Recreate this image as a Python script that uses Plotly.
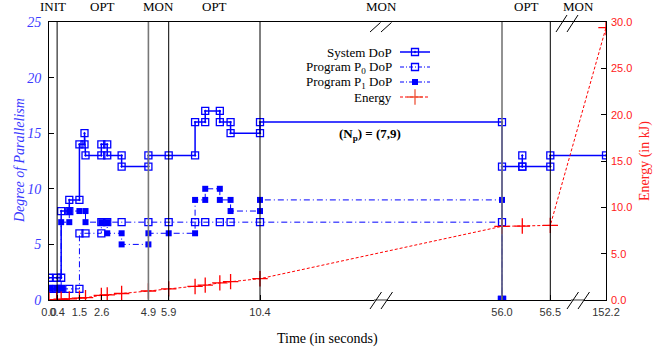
import numpy as np
import plotly.graph_objects as go

# ---------------- data (times in seconds) ----------------
sys_t = [0.0, 0.38, 0.6, 0.6, 1.0, 1.0, 1.5, 1.5, 1.75, 1.75, 1.8, 2.58, 2.58, 2.87, 2.87,
         3.58, 3.58, 4.9, 4.9, 5.9, 7.2, 7.2, 7.7, 7.7, 8.42, 8.42, 8.95, 8.95, 10.4, 10.4,
         56.0, 56.0, 56.0, 56.21, 56.21, 56.21, 56.5, 56.5, 152.2]
sys_dop = [2, 2, 2, 8, 8, 9, 9, 14, 14, 15, 13, 13, 14, 14, 13,
           13, 12, 12, 13, 13, 13, 16, 16, 17, 17, 16, 16, 15, 15, 16,
           16, 0, 12, 12, 13, 12, 12, 13, 13]

p0_t = [0.0, 0.38, 0.6, 1.0, 1.5, 1.5, 1.8, 2.58, 2.58, 2.87, 3.58, 4.9, 5.9, 7.2, 7.7,
        8.42, 8.95, 10.4, 56.0, 56.0]
p0_dop = [1, 1, 1, 1, 1, 6, 6, 6, 7, 7, 7, 7, 7, 7, 7,
          7, 7, 7, 7, 0]

p1_t = [0.0, 0.38, 0.6, 0.6, 1.0, 1.0, 1.5, 1.8, 1.8, 2.58, 2.87, 2.87, 3.58, 3.58, 4.9,
        4.9, 5.9, 7.2, 7.2, 7.7, 7.7, 8.42, 8.42, 8.95, 8.95, 10.4, 10.4, 56.0, 56.0]
p1_dop = [1, 1, 1, 7, 7, 8, 8, 8, 7, 7, 7, 6, 6, 5, 5,
          6, 6, 6, 9, 9, 10, 10, 9, 9, 8, 8, 9, 9, 0]

energy_t = [0.0, 0.38, 0.6, 1.0, 1.5, 1.8, 2.58, 2.87, 3.58, 4.9, 5.9, 7.2, 7.7, 8.42,
            8.95, 10.4, 56.0, 56.21, 56.5, 152.2]
energy_kj = [0.0, 0.05, 0.08, 0.12, 0.2, 0.25, 0.5, 0.55, 0.7, 0.97, 1.2, 1.46, 1.6, 1.85,
             1.98, 2.3, 7.95, 7.98, 8.05, 29.4]

x_ticks = [0.0, 0.4, 1.5, 2.6, 4.9, 5.9, 10.4, 56.0, 56.5, 152.2]
x_tick_text = ["0.0", "0.4", "1.5", "2.6", "4.9", "5.9", "10.4", "56.0", "56.5", "152.2"]

phase_bounds = [0.0, 0.4, 4.9, 5.9, 10.4, 56.0, 56.5, 152.2]
phase_names = ["INIT", "OPT", "MON", "OPT", "MON", "OPT", "MON"]
phase_line_gray = [False, True, False, False, True, False]  # lines at bounds[1:-1]

# ---------------- broken time axis scale ----------------
T_KNOTS = [0.0, 10.4, 56.0, 56.5, 152.2]
U_KNOTS = [0.0, 211.0, 453.0, 501.3, 557.0]


def tx(t):
    return np.interp(np.asarray(t, dtype=float), T_KNOTS, U_KNOTS)


W, H = 665, 350
ML, MR, MT, MB = 49, 59, 22, 50
PW, PH = W - ML - MR, H - MT - MB


def px(xp):
    return (xp - ML) / PW


def py(yp):
    return (H - MB - yp) / PH


BLUE = "#0000ff"
RED = "#ff0000"
SERIF = "Liberation Serif"
SANS = "Liberation Sans"

fig = go.Figure()

fig.add_trace(go.Scatter(x=tx(sys_t), y=sys_dop, mode="lines+markers", name="System DoP",
                         line=dict(color=BLUE, width=1.5),
                         marker=dict(symbol="square-open-dot", size=7, color=BLUE,
                                     line=dict(width=1.3, color=BLUE)),
                         showlegend=False))
fig.add_trace(go.Scatter(x=tx(p0_t), y=p0_dop, mode="lines+markers", name="Program P0 DoP",
                         line=dict(color=BLUE, width=1, dash="6px,3px,1px,3px"),
                         marker=dict(symbol="square-open", size=7, color=BLUE,
                                     line=dict(width=1.3, color=BLUE)),
                         showlegend=False))
fig.add_trace(go.Scatter(x=tx(p1_t), y=p1_dop, mode="lines+markers", name="Program P1 DoP",
                         line=dict(color=BLUE, width=1, dash="6px,3px,1px,3px"),
                         marker=dict(symbol="square", size=6, color=BLUE),
                         showlegend=False))
fig.add_trace(go.Scatter(x=tx(energy_t), y=energy_kj, mode="lines+markers", name="Energy",
                         yaxis="y2",
                         line=dict(color=RED, width=1, dash="3px,2px"),
                         marker=dict(symbol="cross-thin-open", size=11,
                                     line=dict(width=1.3, color=RED)),
                         showlegend=False))

# ---------------- manual legend (symbols right of text) ----------------
legend_labels = ["System DoP", "Program P<sub>0</sub> DoP", "Program P<sub>1</sub> DoP", "Energy"]
legend_rows_px = [52, 67, 82, 97]
legend_styles = [
    (dict(color=BLUE, width=1.5), dict(symbol="square-open-dot", size=7, color=BLUE, line=dict(width=1.3, color=BLUE))),
    (dict(color=BLUE, width=1, dash="4px,2px,1px,2px"), dict(symbol="square-open", size=7, color=BLUE, line=dict(width=1.3, color=BLUE))),
    (dict(color=BLUE, width=1, dash="4px,2px,1px,2px"), dict(symbol="square", size=6, color=BLUE)),
    (dict(color=RED, width=1, dash="3px,2px"), dict(symbol="cross-thin-open", size=11, line=dict(width=1.3, color=RED))),
]
annotations = []
for lab, rp, (ls, ms) in zip(legend_labels, legend_rows_px, legend_styles):
    yv = py(rp)
    fig.add_trace(go.Scatter(x=[px(400), px(430)], y=[yv, yv], mode="lines", line=ls,
                             xaxis="x3", yaxis="y3", showlegend=False, hoverinfo="skip"))
    fig.add_trace(go.Scatter(x=[px(415)], y=[yv], mode="markers", marker=ms,
                             xaxis="x3", yaxis="y3", showlegend=False, hoverinfo="skip"))
    annotations.append(dict(x=px(394), y=yv, xref="paper", yref="paper", text=lab,
                            xanchor="right", yanchor="middle", showarrow=False,
                            font=dict(family=SERIF, size=13, color="#000")))

# ---------------- phase lines & labels ----------------
shapes = []
for b, gray in zip(phase_bounds[1:-1], phase_line_gray):
    shapes.append(dict(type="line", xref="x", yref="paper", x0=float(tx(b)), x1=float(tx(b)),
                       y0=0, y1=1, layer="above",
                       line=dict(color="#777777" if gray else "#000000", width=1.6 if gray else 1)))

for i, name in enumerate(phase_names):
    mid = (float(tx(phase_bounds[i])) + float(tx(phase_bounds[i + 1]))) / 2
    annotations.append(dict(x=mid, y=py(7), xref="x", yref="paper", text=name,
                            xanchor="center", yanchor="middle", showarrow=False,
                            font=dict(family=SERIF, size=13, color="#000")))

# ---------------- axis break marks ----------------
for bx in [381, 578]:
    # bottom gray gap and slashes
    shapes.append(dict(type="line", xref="paper", yref="paper", x0=px(bx - 7), x1=px(bx + 6),
                       y0=0, y1=0, line=dict(color="#999999", width=2), layer="above"))
    for off in (-11, 0):
        shapes.append(dict(type="line", xref="paper", yref="paper",
                           x0=px(bx + off), y0=py(309), x1=px(bx + off + 11.5), y1=py(292),
                           line=dict(color="#000", width=1), layer="above"))
# top slashes
for off in (-11, 0):
    shapes.append(dict(type="line", xref="paper", yref="paper",
                       x0=px(381 + off), y0=py(32), x1=px(381 + off + 10.5), y1=py(22.5),
                       line=dict(color="#000", width=1), layer="above"))
    shapes.append(dict(type="line", xref="paper", yref="paper",
                       x0=px(578 + off - 11), y0=py(32), x1=px(578 + off), y1=py(15),
                       line=dict(color="#000", width=1), layer="above"))

# ---------------- texts ----------------
annotations.append(dict(x=px(370), y=py(134), xref="paper", yref="paper",
                        text="<b>(N<sub>p</sub>) = (7,9)</b>", showarrow=False,
                        xanchor="center", yanchor="middle",
                        font=dict(family=SERIF, size=13, color="#000")))
annotations.append(dict(x=px(19), y=0.5, xref="paper", yref="paper", text="Degree of Parallelism",
                        textangle=-90, showarrow=False, xanchor="center", yanchor="middle",
                        font=dict(family=SERIF, size=14, color="#3a3aff", style="italic")))
annotations.append(dict(x=px(645), y=0.5, xref="paper", yref="paper", text="Energy (in kJ)",
                        textangle=-90, showarrow=False, xanchor="center", yanchor="middle",
                        font=dict(family=SERIF, size=14, color="#ff2020")))
annotations.append(dict(x=0.5, y=py(339), xref="paper", yref="paper", text="Time (in seconds)",
                        showarrow=False, xanchor="center", yanchor="middle",
                        font=dict(family=SERIF, size=14, color="#000")))

fig.update_layout(
    width=W, height=H,
    margin=dict(l=ML, r=MR, t=MT, b=MB, pad=0),
    paper_bgcolor="white", plot_bgcolor="white",
    showlegend=False,
    xaxis=dict(range=[0, U_KNOTS[-1]], tickvals=[float(v) for v in tx(x_ticks)], ticktext=x_tick_text,
               tickangle=0, ticks="inside", ticklen=5, tickcolor="#000",
               showline=True, mirror=True, linecolor="#000", linewidth=1,
               showgrid=False, zeroline=False, ticklabelstandoff=2,
               tickfont=dict(family=SANS, size=11, color="#333")),
    yaxis=dict(range=[0, 25], tickvals=[0, 5, 10, 15, 20, 25], ticks="inside", ticklen=5,
               tickcolor="#000", showline=True, mirror=True, linecolor="#000", linewidth=1,
               showgrid=False, zeroline=False, ticklabelstandoff=4,
               tickfont=dict(family=SERIF, size=14, color="#3a3aff", style="italic")),
    yaxis2=dict(range=[0, 30], tickvals=[0, 5, 10, 15, 20, 25, 30],
                ticktext=["0.0", "5.0", "10.0", "15.0", "20.0", "25.0", "30.0"],
                overlaying="y", side="right", ticks="inside", ticklen=5, tickcolor="#000",
                showline=False, showgrid=False, zeroline=False, ticklabelstandoff=4,
                tickfont=dict(family=SANS, size=11, color="#ff2020")),
    xaxis3=dict(range=[0, 1], overlaying="x", visible=False, domain=[0, 1]),
    yaxis3=dict(range=[0, 1], overlaying="y", visible=False, domain=[0, 1]),
    shapes=shapes,
    annotations=annotations,
)

fig.write_html("out.html", config={"displayModeBar": False},
               post_script="document.body.style.margin='0';")
